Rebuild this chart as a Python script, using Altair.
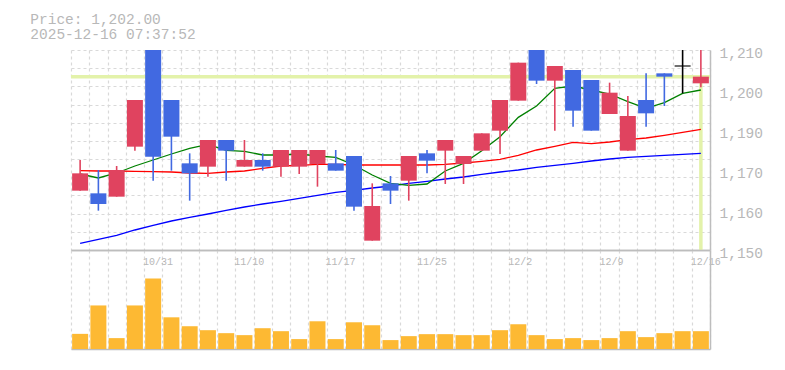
import altair as alt
import pandas as pd

# ---------------- data ----------------
dates = ["10/27", "10/28", "10/29", "10/30", "10/31", "11/4", "11/5", "11/6", "11/7",
         "11/10", "11/11", "11/12", "11/13", "11/14", "11/17", "11/18", "11/19", "11/20",
         "11/21", "11/25", "11/26", "11/27", "11/28", "12/1", "12/2", "12/3", "12/4",
         "12/5", "12/8", "12/9", "12/10", "12/11", "12/12", "12/15", "12/16"]
opens = [1167.8, 1167.0, 1166.0, 1181.0, 1212.0, 1195.0, 1176.0, 1175.0, 1183.0,
         1175.0, 1177.0, 1175.0, 1175.0, 1175.8, 1176.0, 1178.2, 1152.8, 1170.0,
         1170.8, 1179.0, 1179.8, 1175.8, 1179.8, 1185.8, 1194.8, 1211.0, 1200.8,
         1204.0, 1201.0, 1190.8, 1179.8, 1195.0, 1203.0, 1205.2, 1200.0]
highs = [1177.0, 1174.0, 1175.2, 1195.0, 1212.0, 1195.0, 1179.0, 1183.0, 1183.0,
         1183.0, 1179.0, 1180.0, 1180.0, 1180.0, 1180.0, 1178.2, 1170.0, 1172.2,
         1178.2, 1180.0, 1183.0, 1178.2, 1185.0, 1195.0, 1206.2, 1211.0, 1205.2,
         1204.0, 1201.0, 1200.2, 1196.2, 1203.0, 1203.0, 1213.0, 1213.0]
lows = [1167.8, 1161.8, 1166.0, 1179.8, 1170.8, 1173.8, 1164.8, 1172.0, 1170.8,
        1175.0, 1173.8, 1172.0, 1172.8, 1169.0, 1173.8, 1161.8, 1152.8, 1163.8,
        1164.8, 1173.0, 1169.8, 1169.8, 1179.8, 1178.8, 1194.8, 1199.8, 1185.8,
        1187.0, 1185.8, 1190.8, 1179.8, 1187.0, 1193.2, 1197.0, 1198.8]
closes = [1173.0, 1163.8, 1174.0, 1195.0, 1178.0, 1184.0, 1173.0, 1183.0, 1179.8,
          1177.0, 1175.0, 1180.0, 1180.0, 1180.0, 1173.8, 1163.0, 1163.2, 1167.8,
          1178.2, 1176.8, 1183.0, 1178.2, 1185.0, 1195.0, 1206.2, 1200.8, 1205.2,
          1191.8, 1185.8, 1197.2, 1190.2, 1191.0, 1202.0, 1205.2, 1202.0]
ma5 = [1172.8, 1171.6, 1173.1, 1175.2, 1177.0, 1178.8, 1180.5, 1181.7, 1179.9,
       1179.6, 1178.5, 1178.5, 1178.8, 1178.2, 1177.8, 1175.5, 1172.5, 1170.0,
       1169.4, 1169.8, 1173.7, 1176.0, 1179.8, 1184.0, 1189.8, 1193.2, 1198.5,
       1199.2, 1198.0, 1196.8, 1194.5, 1192.5, 1194.2, 1197.0, 1198.0]
ma25 = [1173.8, 1173.7, 1173.7, 1173.6, 1173.5, 1173.4, 1173.1, 1173.0, 1173.4,
        1173.7, 1174.5, 1175.2, 1175.4, 1175.7, 1175.7, 1175.5, 1175.5, 1175.5,
        1175.5, 1175.5, 1175.7, 1176.1, 1176.6, 1177.2, 1178.4, 1180.0, 1181.1,
        1182.3, 1181.9, 1182.4, 1183.1, 1183.6, 1184.4, 1185.3, 1186.2]
ma75 = [1152.0, 1153.2, 1154.4, 1156.0, 1157.4, 1158.7, 1159.8, 1160.8, 1161.9,
        1162.9, 1163.8, 1164.6, 1165.5, 1166.4, 1167.3, 1167.9, 1168.6, 1169.2,
        1170.0, 1170.6, 1171.3, 1171.9, 1172.7, 1173.4, 1174.0, 1174.8, 1175.4,
        1176.0, 1176.7, 1177.3, 1177.8, 1178.1, 1178.4, 1178.7, 1179.0]
volumes = [153, 440, 110, 440, 713, 320, 230, 190, 160, 140, 210, 180, 100, 280,
           100, 270, 240, 90, 130, 150, 150, 140, 140, 190, 250, 140, 100, 110, 90,
           110, 180, 120, 160, 180, 180]
label_dates = ["10/31", "11/10", "11/17", "11/25", "12/2", "12/9", "12/16"]
price_ticks = [1150, 1162, 1174, 1186, 1198, 1210]
price_domain = [1150, 1210]
last_price = 1202.0
title_lines = ["Price: 1,202.00", "2025-12-16 07:37:52"]

# ---------------- styling ----------------
RED = "#e0435f"
BLUE = "#4169e1"
ORANGE = "#fdb933"
LIME = "#e3f2aa"
GRID = "#d9d9d9"
BORDER = "#bdbdbd"
TXT = "#b8b8b8"
MONO = "Liberation Mono"

n = len(dates)
df = pd.DataFrame({
    "i": list(range(n)), "date": dates, "open": opens, "high": highs, "low": lows,
    "close": closes, "ma5": ma5, "ma25": ma25, "ma75": ma75, "volume": volumes,
})
df["dir"] = ["up" if c > o else ("down" if c < o else "flat") for o, c in zip(opens, closes)]
cur = pd.DataFrame({"i": [n - 1], "price": [last_price], "base": [price_domain[0]]})

bounds = [k - 0.5 for k in range(n + 1)]
grid_prices = [price_domain[0] + k * (price_domain[1] - price_domain[0]) / 11 for k in range(12)]
lbl_arr = [d if d in label_dates else "" for d in dates] + [""]
label_expr = "[" + ",".join("'" + s + "'" for s in lbl_arr) + "][round(datum.value + 0.5)]"

xscale = alt.Scale(domain=[-0.5, n - 0.5], nice=False, zero=False, padding=0)
yscale = alt.Scale(domain=price_domain, nice=False, zero=False)
dir_scale = alt.Scale(domain=["up", "down", "flat"], range=[RED, BLUE, "#000000"])

x_grid_axis = alt.Axis(orient="bottom", values=bounds, grid=True, gridColor=GRID,
                       gridDash=[3, 3], gridWidth=1.2, labels=False, ticks=False,
                       domain=True, domainColor=BORDER, domainWidth=1.5, title=None)
y_grid_axis = alt.Axis(orient="left", values=grid_prices, grid=True, gridColor=GRID,
                       gridDash=[3, 3], gridWidth=1.2, labels=False, ticks=False,
                       domain=False, title=None)
y_label_axis = alt.Axis(orient="right", values=price_ticks,
                        labelExpr="format(round(datum.value / 10) * 10, ',')",
                        labelFont=MONO, labelFontSize=14.5, labelColor=TXT,
                        labelPadding=9, labelOffset=3, labelFlush=False,
                        labelOverlap=False, labelBaseline="middle", ticks=False,
                        grid=False, domain=True, domainColor=BORDER, domainWidth=1.5,
                        title=None)

X = lambda ax=None: alt.X("i:Q", scale=xscale, axis=ax)

hline = alt.Chart(cur).mark_rule(color=LIME, strokeWidth=3.5).encode(
    y=alt.Y("price:Q", scale=yscale, axis=y_grid_axis))
vline = alt.Chart(cur).mark_rule(color=LIME, strokeWidth=3.5).encode(
    x=X(x_grid_axis), y=alt.Y("base:Q", scale=yscale, axis=None), y2="price:Q")

def ma_line(field, color):
    return alt.Chart(df).mark_line(color=color, strokeWidth=1.3, clip=True).encode(
        x=X(), y=alt.Y(field + ":Q", scale=yscale, axis=None))

wicks = alt.Chart(df).mark_rule(strokeWidth=1.6, clip=True).encode(
    x=X(), y=alt.Y("low:Q", scale=yscale, axis=y_label_axis), y2="high:Q",
    color=alt.Color("dir:N", scale=dir_scale, legend=None))
bodies = alt.Chart(df).mark_bar(size=16, clip=True).encode(
    x=X(), y=alt.Y("open:Q", scale=yscale, axis=None), y2="close:Q",
    color=alt.Color("dir:N", scale=dir_scale, legend=None))
doji = alt.Chart(df).transform_filter("datum.dir == 'flat'").mark_tick(
    orient="horizontal", size=16, thickness=1.6, color="#000000").encode(
    x=X(), y=alt.Y("open:Q", scale=yscale, axis=None))

price = alt.layer(
    hline, vline, ma_line("ma75", "#0000ff"), ma_line("ma25", "#ff0000"),
    ma_line("ma5", "#008000"), wicks, bodies, doji
).resolve_axis(x="independent", y="independent").properties(width=639, height=200)

x_vol_axis = alt.Axis(orient="bottom", values=bounds, grid=True, gridColor=GRID,
                      gridDash=[3, 3], gridWidth=1.2, labels=False, ticks=False,
                      domain=True, domainColor=BORDER, domainWidth=1.5, title=None)
x_date_axis = alt.Axis(orient="top", values=bounds, labelExpr=label_expr, grid=False,
                       ticks=False, domain=True, domainColor=BORDER, domainWidth=1.5,
                       labelFont=MONO, labelFontSize=10, labelColor=TXT,
                       labelAlign="left", labelBaseline="alphabetic",
                       labelPadding=-14.5, labelOffset=-1.5, labelOverlap=False,
                       labelFlush=False, title=None)
vol_y_axis = alt.Axis(orient="right", labels=False, ticks=False, grid=False,
                      domain=True, domainColor=BORDER, domainWidth=1.5, title=None)
vscale = alt.Scale(domain=[0, 1000], nice=False)

vol_bars = alt.Chart(df).mark_bar(size=16, color=ORANGE).encode(
    x=X(x_vol_axis), y=alt.Y("volume:Q", scale=vscale, axis=vol_y_axis))
vol_dates = alt.Chart(df).mark_bar(size=16, opacity=0).encode(
    x=X(x_date_axis), y=alt.Y("volume:Q", scale=vscale, axis=None))
volume = alt.layer(vol_bars, vol_dates).resolve_axis(
    x="independent", y="independent").properties(width=639, height=99)

chart = alt.vconcat(price, volume, spacing=0, bounds="flush").properties(
    title=alt.TitleParams(text=title_lines, anchor="start", font=MONO, fontSize=14.5,
                          fontWeight="normal", color=TXT, lineHeight=15, dx=-40.7,
                          offset=3, frame="group"),
    padding={"left": 22, "top": 3, "right": 5, "bottom": 5},
).configure_view(stroke=None)

chart.save("out.html", embed_options={"renderer": "svg", "actions": False})
